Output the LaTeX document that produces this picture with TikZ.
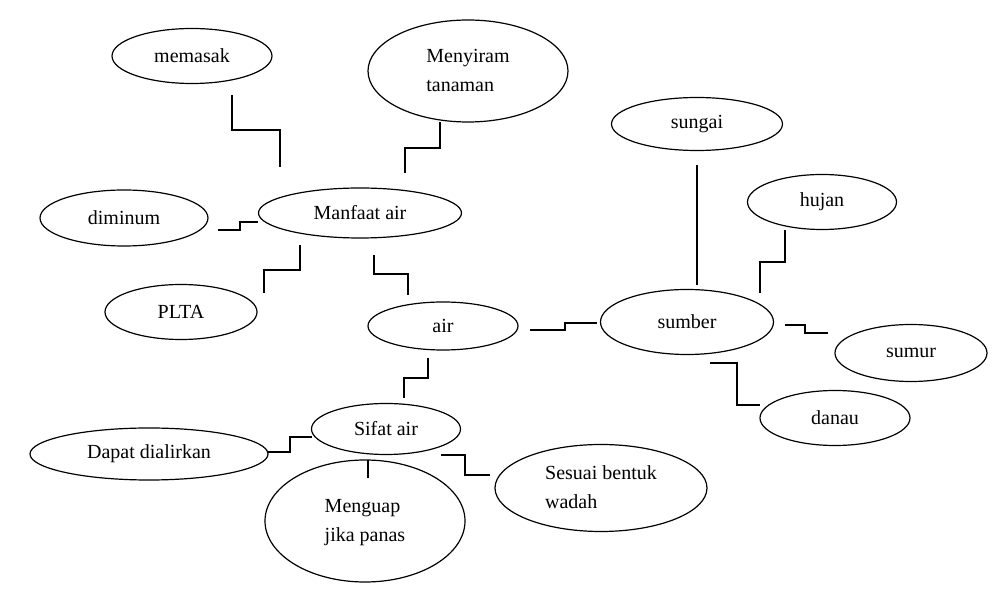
\documentclass[tikz,border=0pt]{standalone}
\usepackage{fontspec}
\setmainfont{Liberation Serif}
\usetikzlibrary{shapes.geometric}
\begin{document}
\begin{tikzpicture}[x=0.75pt,y=-0.75pt,
  el/.style={ellipse,draw,line width=0.9pt,inner sep=0pt,font=\fontsize{15}{22}\selectfont},
  ln/.style={line width=0.9pt}]
\useasboundingbox (0,0) rectangle (1001,591);
\newcommand\E[5]{\node[el,minimum width=#3*0.75pt,minimum height=#4*0.75pt] (#5) at (#1,#2)}
\E{192}{56}{160}{55}{mem} {memasak};
\E{468}{71}{200}{102}{sir} {\begin{tabular}{@{}l@{}}Menyiram\\tanaman\end{tabular}};
\E{124}{218}{168}{56}{min} {diminum};
\E{360}{213}{203}{50}{man} {Manfaat air};
\E{181}{312}{152}{55}{plta} {PLTA};
\E{443}{326}{150}{48}{air} {air};
\E{697}{124}{171}{53}{sun} {sungai};
\E{822}{202}{149}{55}{huj} {hujan};
\E{687}{322}{173}{65}{sum} {sumber};
\E{911}{353}{152}{57}{sumur} {sumur};
\E{835}{418}{150}{55}{dan} {danau};
\E{386}{429}{149}{51}{sif} {Sifat air};
\E{149}{454}{238}{52}{dap} {Dapat dialirkan};
\E{601}{488}{212}{87}{ses} {\begin{tabular}{@{}l@{}}Sesuai bentuk\\wadah\end{tabular}};
\E{365}{521}{200}{122}{men} {\begin{tabular}{@{}l@{}}Menguap\\jika panas\end{tabular}};
\draw[ln] (232,95)--(232,130)--(280,130)--(280,167);
\draw[ln] (405,173)--(405,148)--(440,148)--(440,122);
\draw[ln] (218,230)--(240,230)--(240,222)--(258,222);
\draw[ln] (264,293)--(264,270)--(300,270)--(300,245);
\draw[ln] (374,255)--(374,274)--(408,274)--(408,295);
\draw[ln] (428,358)--(428,378)--(404,378)--(404,398);
\draw[ln] (530,330)--(565,330)--(565,323)--(597,323);
\draw[ln] (697,165)--(697,285);
\draw[ln] (760,293)--(760,262)--(785,262)--(785,230);
\draw[ln] (785,325)--(805,325)--(805,333)--(828,333);
\draw[ln] (710,363)--(737,363)--(737,405)--(760,405);
\draw[ln] (268,452)--(290,452)--(290,437)--(312,437);
\draw[ln] (368,460)--(368,478);
\draw[ln] (441,455)--(465,455)--(465,475)--(490,475);
\end{tikzpicture}
\end{document}
